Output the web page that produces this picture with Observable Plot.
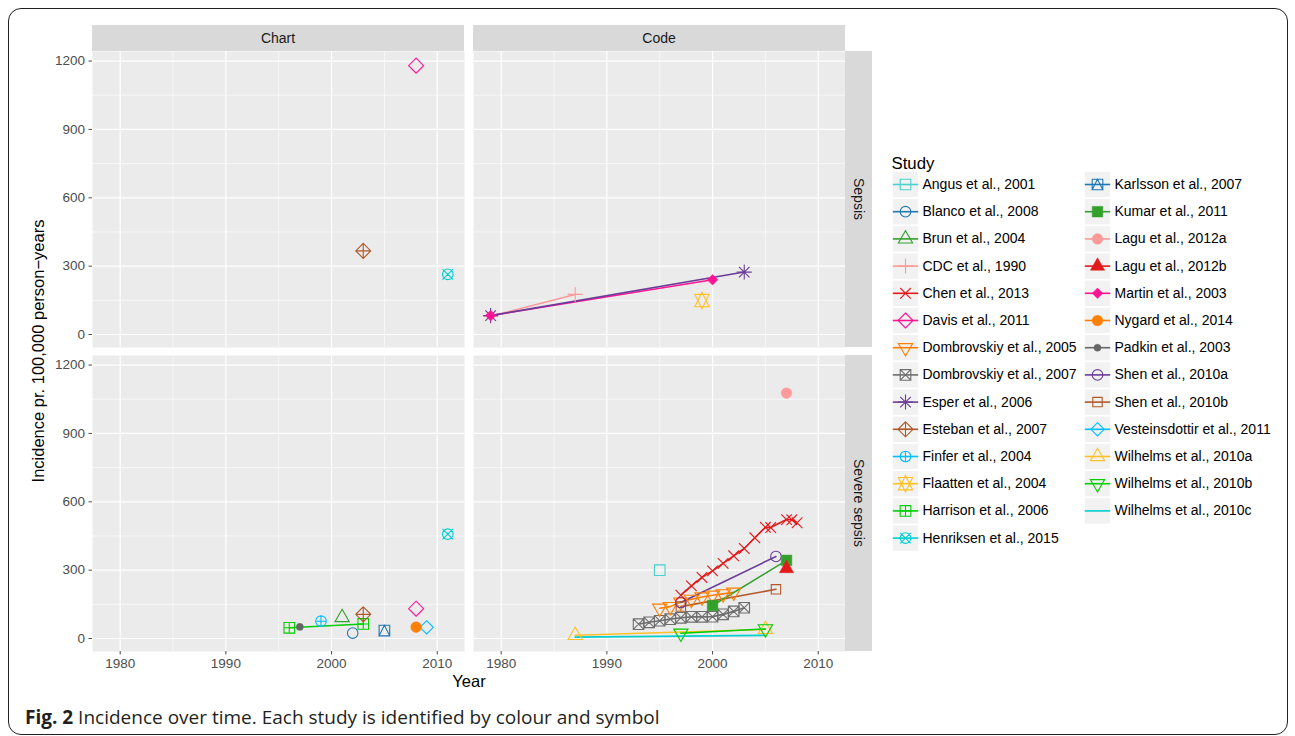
<!DOCTYPE html>
<html>
<head>
<meta charset="utf-8">
<script src="https://cdn.jsdelivr.net/npm/d3@7"></script>
<script src="https://cdn.jsdelivr.net/npm/@observablehq/plot@0.6"></script>
<style>
  body { margin: 0; background: white; }
  #root { position: relative; width: 1295px; height: 736px; overflow: hidden; background: white;
          font-family: "Liberation Sans", Arial, Helvetica, sans-serif; }
  .abs { position: absolute; }
  .frameBox { left: 8px; top: 8px; width: 1280px; height: 727px; box-sizing: border-box;
              border: 1.4px solid #231F20; border-radius: 13px; }
  .ytitle { left: 38px; top: 351px; transform: translate(-50%, -50%) rotate(-90deg);
            white-space: nowrap; font-size: 16.5px; color: #000; }
  .xtitle { left: 469px; top: 681px; transform: translate(-50%, -50%); font-size: 16.5px; color: #000; }
  .caption { left: 25px; top: 717px; transform: translateY(-50%); white-space: nowrap;
             font-family: "Open Sans", "Noto Sans", sans-serif; font-size: 19px; color: #231F20; }
  .caption b { font-weight: 700; }
</style>
</head>
<body>
<div id="root">
  <div class="abs frameBox"></div>
  <div class="abs ytitle">Incidence pr. 100,000 person−years</div>
  <div class="abs xtitle">Year</div>
  <div class="abs caption"><b>Fig. 2</b> Incidence over time. Each study is identified by colour and symbol</div>
</div>
<script>
// ---------------- data ----------------
const studies = [
  "Angus et al., 2001", "Blanco et al., 2008", "Brun et al., 2004", "CDC et al., 1990",
  "Chen et al., 2013", "Davis et al., 2011", "Dombrovskiy et al., 2005", "Dombrovskiy et al., 2007",
  "Esper et al., 2006", "Esteban et al., 2007", "Finfer et al., 2004", "Flaatten et al., 2004",
  "Harrison et al., 2006", "Henriksen et al., 2015", "Karlsson et al., 2007", "Kumar et al., 2011",
  "Lagu et al., 2012a", "Lagu et al., 2012b", "Martin et al., 2003", "Nygard et al., 2014",
  "Padkin et al., 2003", "Shen et al., 2010a", "Shen et al., 2010b", "Vesteinsdottir et al., 2011",
  "Wilhelms et al., 2010a", "Wilhelms et al., 2010b", "Wilhelms et al., 2010c"
];
const studyColors = [
  "#48D1CC", "#1F78B4", "#33A02C", "#FB9A99",
  "#E31A1C", "#FF1493", "#FF7F00", "#6E6E6E",
  "#6A3D9A", "#B15928", "#00BFFF", "#FFC125",
  "#00CD00", "#00CED1", "#1F78B4", "#33A02C",
  "#FB9A99", "#E31A1C", "#FF1493", "#FF7F00",
  "#666666", "#6A3D9A", "#B15928", "#00BFFF",
  "#FFC125", "#00CD00", "#00CED1"
];
const studyShapes = [
  "square", "circle", "triangle", "plus",
  "cross", "diamond", "triangleDown", "squareCross",
  "asterisk", "diamondPlus", "circlePlus", "davidStar",
  "squarePlus", "circleCross", "squareTriangle", "filledSquare",
  "filledCircle", "filledTriangle", "filledDiamond", "filledCircleBorder",
  "smallDot", "circle21", "square22", "diamond23",
  "triangle24", "triangle25", "none"
];
const panelColumns = ["Chart", "Code"];
const panelRows = ["Sepsis", "Severe sepsis"];
const xTicks = [1980, 1990, 2000, 2010];
const xMinorTicks = [1985, 1995, 2005];
const yTicks = [0, 300, 600, 900, 1200];
const yMinorTicks = [150, 450, 750, 1050];

// [study, year, incidence]
const chartSepsis = [
  ["Davis et al., 2011", 2008, 1180],
  ["Esteban et al., 2007", 2003, 367],
  ["Henriksen et al., 2015", 2011, 264]
];
const codeSepsis = [
  ["CDC et al., 1990", 1979, 80], ["CDC et al., 1990", 1987, 176],
  ["Martin et al., 2003", 1979, 83], ["Martin et al., 2003", 2000, 240],
  ["Esper et al., 2006", 1979, 83], ["Esper et al., 2006", 2003, 274],
  ["Flaatten et al., 2004", 1999, 149]
];
const chartSevere = [
  ["Harrison et al., 2006", 1996, 47], ["Harrison et al., 2006", 2003, 64],
  ["Padkin et al., 2003", 1997, 51],
  ["Finfer et al., 2004", 1999, 76],
  ["Brun et al., 2004", 2001, 92],
  ["Blanco et al., 2008", 2002, 24],
  ["Esteban et al., 2007", 2003, 106],
  ["Karlsson et al., 2007", 2005, 35],
  ["Davis et al., 2011", 2008, 131],
  ["Nygard et al., 2014", 2008, 50],
  ["Vesteinsdottir et al., 2011", 2009, 49],
  ["Henriksen et al., 2015", 2011, 458]
];
const codeSevere = [
  ["Wilhelms et al., 2010c", 1987, 6], ["Wilhelms et al., 2010c", 2005, 14],
  ["Wilhelms et al., 2010a", 1987, 14], ["Wilhelms et al., 2010a", 2005, 40],
  ["Wilhelms et al., 2010b", 1997, 23], ["Wilhelms et al., 2010b", 2005, 42],
  ["Dombrovskiy et al., 2007", 1993, 63], ["Dombrovskiy et al., 2007", 1994, 71],
  ["Dombrovskiy et al., 2007", 1995, 78], ["Dombrovskiy et al., 2007", 1996, 85],
  ["Dombrovskiy et al., 2007", 1997, 91], ["Dombrovskiy et al., 2007", 1998, 95],
  ["Dombrovskiy et al., 2007", 1999, 95], ["Dombrovskiy et al., 2007", 2000, 96],
  ["Dombrovskiy et al., 2007", 2001, 106], ["Dombrovskiy et al., 2007", 2002, 119],
  ["Dombrovskiy et al., 2007", 2003, 135],
  ["Dombrovskiy et al., 2005", 1995, 133], ["Dombrovskiy et al., 2005", 1996, 140],
  ["Dombrovskiy et al., 2005", 1997, 160], ["Dombrovskiy et al., 2005", 1998, 172],
  ["Dombrovskiy et al., 2005", 1999, 182], ["Dombrovskiy et al., 2005", 2000, 190],
  ["Dombrovskiy et al., 2005", 2001, 196], ["Dombrovskiy et al., 2005", 2002, 203],
  ["Shen et al., 2010b", 1997, 140], ["Shen et al., 2010b", 2006, 216],
  ["Kumar et al., 2011", 2000, 145], ["Kumar et al., 2011", 2007, 343],
  ["Shen et al., 2010a", 1997, 158], ["Shen et al., 2010a", 2006, 360],
  ["Chen et al., 2013", 1997, 190], ["Chen et al., 2013", 1998, 231],
  ["Chen et al., 2013", 1999, 268], ["Chen et al., 2013", 2000, 297],
  ["Chen et al., 2013", 2001, 330], ["Chen et al., 2013", 2002, 363],
  ["Chen et al., 2013", 2003, 395], ["Chen et al., 2013", 2004, 442],
  ["Chen et al., 2013", 2005, 488], ["Chen et al., 2013", 2005.5, 487],
  ["Chen et al., 2013", 2007, 522], ["Chen et al., 2013", 2007.5, 521],
  ["Chen et al., 2013", 2008, 508],
  ["Angus et al., 2001", 1995, 300],
  ["Lagu et al., 2012b", 2007, 307],
  ["Lagu et al., 2012a", 2007, 1077]
];

// ---------------- symbols (ggplot / R pch geometry) ----------------
const T0 = 1.5551203, T1 = 1.3467737, T2 = 0.7775602, SQ = 0.8862269, DM = 1.2533141, K = Math.SQRT2;
const circ = (c, r) => { c.moveTo(r, 0); c.arc(0, 0, r, 0, 2 * Math.PI); };
const box = (c, h) => { c.rect(-h, -h, 2 * h, 2 * h); };
const triUp = (c, R) => { c.moveTo(0, -T0 * R); c.lineTo(T1 * R, T2 * R); c.lineTo(-T1 * R, T2 * R); c.closePath(); };
const triDown = (c, R) => { c.moveTo(0, T0 * R); c.lineTo(T1 * R, -T2 * R); c.lineTo(-T1 * R, -T2 * R); c.closePath(); };
const plus = (c, a) => { c.moveTo(-a, 0); c.lineTo(a, 0); c.moveTo(0, -a); c.lineTo(0, a); };
const cross = (c, a) => { c.moveTo(-a, -a); c.lineTo(a, a); c.moveTo(-a, a); c.lineTo(a, -a); };
const diam = (c, a) => { c.moveTo(0, -a); c.lineTo(a, 0); c.lineTo(0, a); c.lineTo(-a, 0); c.closePath(); };
const shapeDraw = {
  square: (c, R) => box(c, R),
  circle: (c, R) => circ(c, R),
  triangle: triUp,
  plus: (c, R) => plus(c, K * R),
  cross: (c, R) => cross(c, R),
  diamond: (c, R) => diam(c, K * R),
  triangleDown: triDown,
  squareCross: (c, R) => { box(c, R); cross(c, R); },
  asterisk: (c, R) => { cross(c, R); plus(c, K * R); },
  diamondPlus: (c, R) => { diam(c, K * R); plus(c, K * R); },
  circlePlus: (c, R) => { circ(c, R); plus(c, R); },
  davidStar: (c, R) => {
    const r = T0 * R, yc = 0.5 * (T2 * R + r), xc = T1 * R;
    c.moveTo(0, -r); c.lineTo(xc, yc); c.lineTo(-xc, yc); c.closePath();
    c.moveTo(0, r); c.lineTo(xc, -yc); c.lineTo(-xc, -yc); c.closePath();
  },
  squarePlus: (c, R) => { box(c, R); plus(c, R); },
  circleCross: (c, R) => { circ(c, R); cross(c, R); },
  squareTriangle: (c, R) => { box(c, R); c.moveTo(0, -R); c.lineTo(R, R); c.lineTo(-R, R); c.closePath(); },
  filledSquare: (c, R) => box(c, R),
  filledCircle: (c, R) => circ(c, R),
  filledTriangle: triUp,
  filledDiamond: (c, R) => diam(c, R),
  filledCircleBorder: (c, R) => circ(c, R),
  smallDot: (c, R) => circ(c, R * 2 / 3),
  circle21: (c, R) => circ(c, R),
  square22: (c, R) => box(c, SQ * R),
  diamond23: (c, R) => diam(c, DM * R),
  triangle24: triUp,
  triangle25: triDown,
  none: () => {}
};
const symbolRange = studyShapes.map(s => ({draw(ctx, size) { shapeDraw[s](ctx, Math.sqrt(size / Math.PI)); }}));
const isFilled = new Set(studies.filter((s, i) => /^filled|smallDot/.test(studyShapes[i])));
const hasShape = new Set(studies.filter((s, i) => studyShapes[i] !== "none"));

const FONT = "'Liberation Sans', Arial, Helvetica, sans-serif";
const X_DOMAIN = [1977.38, 2012.58];
const Y_DOMAIN = [-57, 1242];
const PANEL_W = 372, PANEL_H = 296, STRIP = 26, RSTRIP = 27;
const PT_R = 5.3;

function stripTop(label) {
  return (index, scales, values, dim) => {
    const g = d3.create("svg:g");
    g.append("rect").attr("x", dim.marginLeft).attr("y", 0)
      .attr("width", dim.width - dim.marginLeft - dim.marginRight).attr("height", dim.marginTop)
      .attr("fill", "#D9D9D9");
    g.append("text").attr("x", dim.marginLeft + (dim.width - dim.marginLeft - dim.marginRight) / 2)
      .attr("y", dim.marginTop / 2).attr("dy", "0.35em").attr("text-anchor", "middle")
      .attr("fill", "#1A1A1A").attr("font-size", 14).text(label);
    return g.node();
  };
}
function stripRight(label) {
  return (index, scales, values, dim) => {
    const g = d3.create("svg:g");
    const x0 = dim.width - dim.marginRight, h = dim.height - dim.marginTop - dim.marginBottom;
    g.append("rect").attr("x", x0).attr("y", dim.marginTop).attr("width", dim.marginRight)
      .attr("height", h).attr("fill", "#D9D9D9");
    g.append("text").attr("transform", `translate(${x0 + dim.marginRight / 2},${dim.marginTop + h / 2}) rotate(90)`)
      .attr("dy", "0.35em").attr("text-anchor", "middle").attr("fill", "#1A1A1A")
      .attr("font-size", 14).text(label);
    return g.node();
  };
}

function panel(rows, {col, row, left, top}) {
  const yAxis = col === 0, xAxis = row === 1, topStrip = row === 0, rightStrip = col === 1;
  const mt = topStrip ? STRIP : 0, mr = rightStrip ? RSTRIP : 0, ml = yAxis ? 60 : 0, mb = xAxis ? 30 : 0;
  const data = rows.map(([study, year, value]) => ({study, year, value}));
  const counts = d3.rollup(data, v => v.length, d => d.study);
  const lineData = data.filter(d => counts.get(d.study) > 1);
  const openPts = data.filter(d => hasShape.has(d.study) && !isFilled.has(d.study));
  const filledPts = data.filter(d => isFilled.has(d.study));
  const marks = [
    Plot.frame({fill: "#EBEBEB", stroke: "none"}),
    Plot.gridX(xMinorTicks, {stroke: "white", strokeOpacity: 1, strokeWidth: 0.6}),
    Plot.gridY(yMinorTicks, {stroke: "white", strokeOpacity: 1, strokeWidth: 0.6}),
    Plot.gridX(xTicks, {stroke: "white", strokeOpacity: 1, strokeWidth: 1.2}),
    Plot.gridY(yTicks, {stroke: "white", strokeOpacity: 1, strokeWidth: 1.2}),
    Plot.line(lineData, {x: "year", y: "value", z: "study", stroke: "study", strokeWidth: 1.6}),
    Plot.dot(openPts, {x: "year", y: "value", symbol: "study", stroke: "study", fill: "none", r: PT_R, strokeWidth: 1.1}),
    Plot.dot(filledPts, {x: "year", y: "value", symbol: "study", fill: "study", stroke: "study", r: PT_R, strokeWidth: 0.5})
  ];
  if (yAxis) marks.push(Plot.axisY(yTicks, {tickSize: 3.5, tickPadding: 4, tickFormat: "d", label: null, fontSize: 13.5, color: "#4D4D4D"}));
  if (xAxis) marks.push(Plot.axisX(xTicks, {tickSize: 3.5, tickPadding: 3, tickFormat: "d", label: null, fontSize: 13.5, color: "#4D4D4D"}));
  if (topStrip) marks.push(stripTop(panelColumns[col]));
  if (rightStrip) marks.push(stripRight(panelRows[row]));
  const svg = Plot.plot({
    width: ml + PANEL_W + mr, height: mt + PANEL_H + mb,
    marginTop: mt, marginRight: mr, marginBottom: mb, marginLeft: ml,
    x: {domain: X_DOMAIN, axis: null},
    y: {domain: Y_DOMAIN, axis: null},
    color: {domain: studies, range: studyColors},
    symbol: {domain: studies, range: symbolRange},
    style: {background: "transparent", overflow: "visible", fontFamily: FONT, fontSize: "13.5px", color: "#4D4D4D"},
    marks
  });
  svg.style.position = "absolute";
  svg.style.left = (left - ml) + "px";
  svg.style.top = (top - mt) + "px";
  svg.style.maxWidth = "none";
  document.getElementById("root").appendChild(svg);
}

panel(chartSepsis, {col: 0, row: 0, left: 92, top: 51});
panel(codeSepsis, {col: 1, row: 0, left: 473, top: 51});
panel(chartSevere, {col: 0, row: 1, left: 92, top: 355});
panel(codeSevere, {col: 1, row: 1, left: 473, top: 355});

// ---------------- legend ----------------
const legendItems = studies.map((s, i) => ({study: s, col: i < 14 ? 0 : 1, row: i < 14 ? i : i - 14}));
const keyLine = {draw(ctx) { ctx.moveTo(-12.7, 0); ctx.lineTo(12.7, 0); }};
const legend = Plot.plot({
  width: 410, height: 410, margin: 0,
  x: {domain: [0, 1], range: [25, 217], axis: null},
  y: {domain: [0, 13], range: [44, 44 + 13 * 27.2], axis: null},
  color: {domain: studies, range: studyColors},
  symbol: {domain: studies, range: symbolRange},
  style: {background: "transparent", overflow: "visible", fontFamily: FONT, color: "#000"},
  marks: [
    Plot.text(["Study"], {frameAnchor: "top-left", dx: 11, dy: 17, textAnchor: "start", fontSize: 16.8, fill: "#000"}),
    Plot.dot(legendItems, {x: "col", y: "row", symbol: "square", r: 25.4 / Math.sqrt(Math.PI), fill: "#F2F2F2", stroke: "none"}),
    Plot.dot(legendItems, {x: "col", y: "row", symbol: keyLine, stroke: "study", strokeWidth: 1.6, r: 1}),
    Plot.dot(legendItems.filter(d => hasShape.has(d.study) && !isFilled.has(d.study)),
      {x: "col", y: "row", symbol: "study", stroke: "study", fill: "none", r: PT_R, strokeWidth: 1.1}),
    Plot.dot(legendItems.filter(d => isFilled.has(d.study)),
      {x: "col", y: "row", symbol: "study", fill: "study", stroke: "study", r: PT_R, strokeWidth: 0.5}),
    Plot.text(legendItems, {x: "col", y: "row", text: "study", textAnchor: "start", dx: 17, fontSize: 14, fill: "#000"})
  ]
});
legend.style.position = "absolute";
legend.style.left = "880px";
legend.style.top = "140px";
legend.style.maxWidth = "none";
document.getElementById("root").appendChild(legend);
</script>
</body>
</html>
